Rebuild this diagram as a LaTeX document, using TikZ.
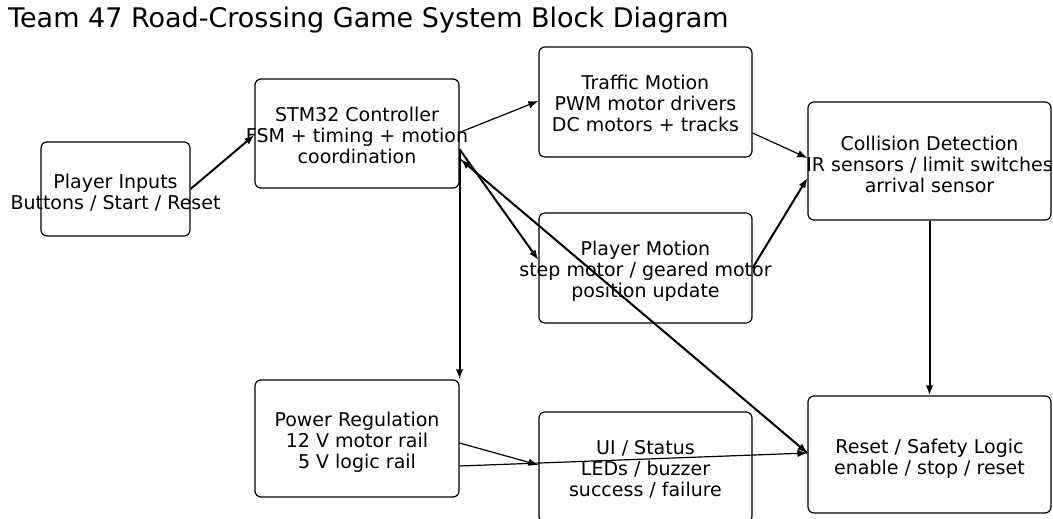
\documentclass[tikz,border=0pt]{standalone}
\usepackage{fontspec}
\setmainfont{DejaVu Sans}
\usetikzlibrary{arrows.meta,calc}
\tikzset{
  blk/.style={draw=black, line width=1.2pt, rounded corners=6pt, inner sep=0pt},
  lbl/.style={align=center, inner sep=0pt, font=\fontsize{19}{21}\selectfont},
  con/.style={line width=1.2pt, -{Latex[length=10pt,width=7.5pt]}},
  thk/.style={line width=2pt, -{Latex[length=10pt,width=7.5pt]}},
}
\begin{document}
\begin{tikzpicture}[x=1pt,y=-1pt]
\useasboundingbox (0,0) rectangle (1053,519);
\node[anchor=base west, inner sep=0pt, font=\fontsize{27}{30}\selectfont] (title) at (8,28) {Team 47 Road-Crossing Game System Block Diagram};

\node[blk, minimum width=149pt, minimum height=94pt] (inp) at (115.5,189) {};
\node[blk, minimum width=204pt, minimum height=109pt] (stm) at (357,133.5) {};
\node[blk, minimum width=213pt, minimum height=110pt] (trf) at (645.5,102) {};
\node[blk, minimum width=243pt, minimum height=118pt] (col) at (929.5,161) {};
\node[blk, minimum width=213pt, minimum height=110pt] (pm) at (645.5,268) {};
\node[blk, minimum width=204pt, minimum height=117pt] (pwr) at (357,438.5) {};
\node[blk, minimum width=213pt, minimum height=110pt] (ui) at (645.5,467) {};
\node[blk, minimum width=243pt, minimum height=117pt] (rst) at (929.5,454.5) {};

\node[lbl] (inpT) at ($(inp)+(0,4)$) {Player Inputs\\Buttons / Start / Reset};
\node[lbl] (stmT) at ($(stm)+(0,2)$) {STM32 Controller\\FSM + timing + motion\\coordination};
\node[lbl] (trfT) at ($(trf)+(0,1)$) {Traffic Motion\\PWM motor drivers\\DC motors + tracks};
\node[lbl] (colT) at ($(col)+(0,3.5)$) {Collision Detection\\IR sensors / limit switches\\arrival sensor};
\node[lbl] (pmT) at ($(pm)+(0,3.5)$) {Player Motion\\step motor / geared motor\\position update};
\node[lbl] (pwrT) at ($(pwr)+(0,3.5)$) {Power Regulation\\12 V motor rail\\5 V logic rail};
\node[lbl] (uiT) at ($(ui)+(0,2.5)$) {UI / Status\\LEDs / buzzer\\success / failure};
\node[lbl] (rstT) at ($(rst)+(0,4.5)$) {Reset / Safety Logic\\enable / stop / reset};

\coordinate (s1) at ($(stm.north east)+(0,54)$);
\coordinate (s2) at ($(stm.north east)+(0,71)$);
\coordinate (s3) at ($(stm.north east)+(1,81)$);

\draw[thk] (inp.east) -- ($(stm.west)+(0,1.5)$);
\draw[con] (s1) -- ($(trf.west)+(0,-1)$);
\draw[thk] (s2) -- ($(pm.west)+(0,-8)$);
\draw[thk] (s2) -- (pwr.north east);
\draw[thk] ($(rst.west)+(0,-1.5)$) -- (s3);
\draw[con] (s3) -- ($(rst.west)+(0,-1.5)$);
\draw[con] ($(trf.east)+(0,31)$) -- ($(col.west)+(0,-3)$);
\draw[thk] (pm.east) -- ($(col.west)+(0,17)$);
\draw[thk] (col.south) -- (rst.north);
\draw[con] ($(pwr.east)+(0,4.5)$) -- ($(ui.west)+(0,-2)$);
\draw[con] ($(pwr.east)+(0,27.5)$) -- ($(rst.west)+(0,-1.5)$);
\end{tikzpicture}
\end{document}
